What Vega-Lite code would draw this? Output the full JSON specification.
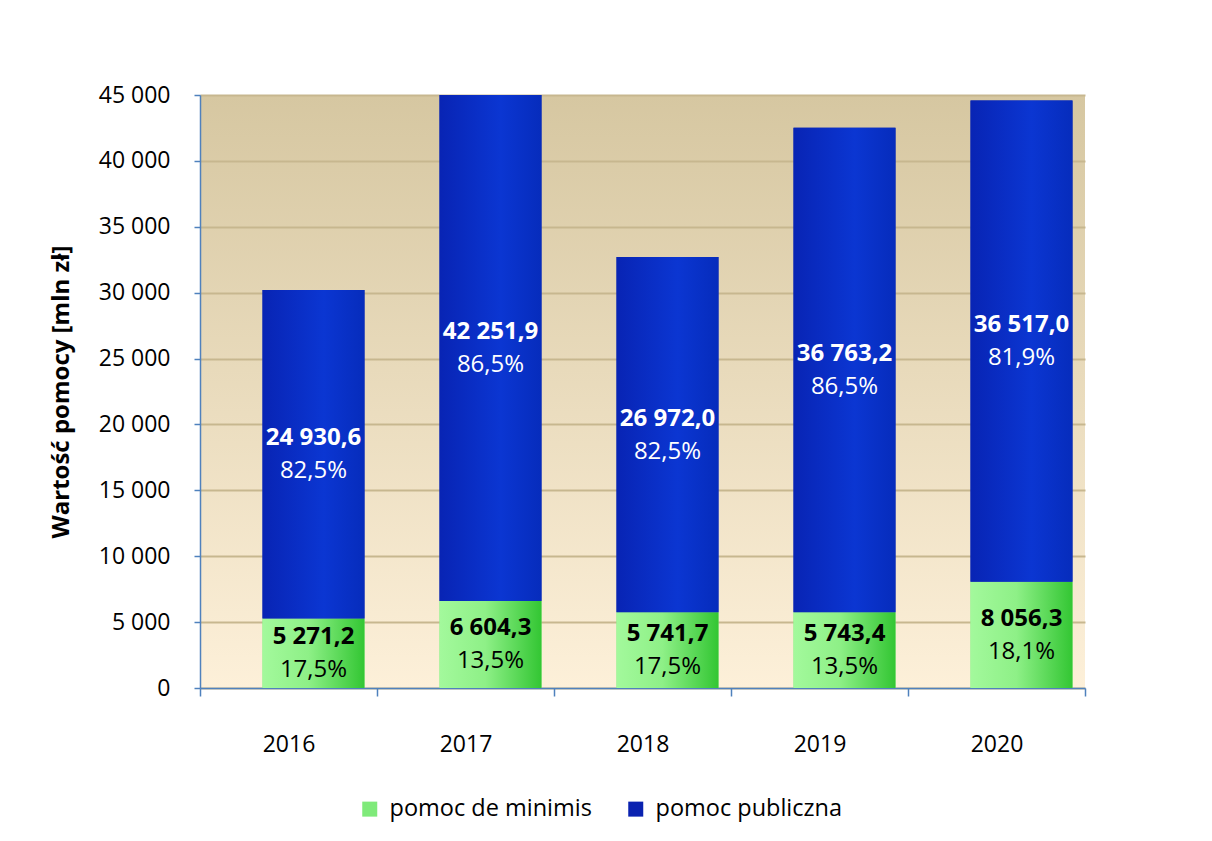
{
  "$schema": "https://vega.github.io/schema/vega-lite/v6.json",
  "width": 885,
  "height": 593,
  "autosize": "none",
  "padding": {"left": 200, "top": 95, "right": 127, "bottom": 153},
  "background": "white",
  "view": {
    "fill": {"gradient": "linear", "x1": 0, "y1": 0, "x2": 0, "y2": 1,
      "stops": [{"offset": 0, "color": "#d6c7a1"}, {"offset": 1, "color": "#fdf0d9"}]},
    "stroke": null
  },
  "config": {
    "font": "Open Sans",
    "axis": {"labelColor": "#000000", "titleColor": "#000000", "domainColor": "#4f81bd", "tickColor": "#4f81bd", "domainWidth": 1.5, "tickWidth": 1.5}
  },
  "data": {
    "values": [
      {"year": "2016", "type": "pomoc de minimis", "ord": 1, "value": 5271.2, "label": "5 271,2", "pct": "17,5%"},
      {"year": "2016", "type": "pomoc publiczna", "ord": 2, "value": 24930.6, "label": "24 930,6", "pct": "82,5%"},
      {"year": "2017", "type": "pomoc de minimis", "ord": 1, "value": 6604.3, "label": "6 604,3", "pct": "13,5%"},
      {"year": "2017", "type": "pomoc publiczna", "ord": 2, "value": 42251.9, "label": "42 251,9", "pct": "86,5%"},
      {"year": "2018", "type": "pomoc de minimis", "ord": 1, "value": 5741.7, "label": "5 741,7", "pct": "17,5%"},
      {"year": "2018", "type": "pomoc publiczna", "ord": 2, "value": 26972.0, "label": "26 972,0", "pct": "82,5%"},
      {"year": "2019", "type": "pomoc de minimis", "ord": 1, "value": 5743.4, "label": "5 743,4", "pct": "13,5%"},
      {"year": "2019", "type": "pomoc publiczna", "ord": 2, "value": 36763.2, "label": "36 763,2", "pct": "86,5%"},
      {"year": "2020", "type": "pomoc de minimis", "ord": 1, "value": 8056.3, "label": "8 056,3", "pct": "18,1%"},
      {"year": "2020", "type": "pomoc publiczna", "ord": 2, "value": 36517.0, "label": "36 517,0", "pct": "81,9%"}
    ]
  },
  "transform": [
    {"stack": "value", "groupby": ["year"], "sort": [{"field": "ord", "order": "ascending"}], "as": ["v0", "v1"]},
    {"calculate": "(datum.v0 + min(datum.v1, 45000)) / 2", "as": "mid"}
  ],
  "encoding": {
    "x": {
      "field": "year", "type": "nominal",
      "scale": {"paddingInner": 0, "paddingOuter": 0},
      "axis": {"title": null, "labelAngle": 0, "labelFontSize": 23, "labelPadding": 37, "tickBand": "extent", "tickSize": 8, "grid": false}
    }
  },
  "layer": [
    {
      "mark": {"type": "bar", "xOffset": 25, "width": {"band": 0.576}},
      "encoding": {
        "y": {
          "field": "v0", "type": "quantitative",
          "scale": {"domain": [0, 45000], "nice": false, "clamp": true},
          "axis": {
            "values": [0, 5000, 10000, 15000, 20000, 25000, 30000, 35000, 40000, 45000],
            "labelExpr": "replace(format(datum.value, ','), ',', ' ')",
            "labelFontSize": 23, "labelPadding": 24, "tickSize": 6,
            "title": "Wartość pomocy [mln zł]", "titleFontSize": 24, "titleFontWeight": "bold", "titlePadding": 25,
            "grid": true, "gridColor": "#c7b78f", "gridWidth": 2
          }
        },
        "y2": {"field": "v1"},
        "color": {
          "field": "type", "type": "nominal",
          "scale": {"domain": ["pomoc de minimis", "pomoc publiczna"], "range": ["#7fea7a", "#0a22b0"]},
          "legend": {
            "title": null, "orient": "none", "direction": "horizontal", "legendX": 158, "legendY": 702,
            "symbolType": "square", "symbolSize": 225, "symbolStrokeWidth": 0, "labelFontSize": 23.5, "labelLimit": 500, "labelOffset": 8, "columnPadding": 32
          }
        }
      }
    },
    {
      "transform": [{"filter": "datum.type === 'pomoc de minimis'"}],
      "mark": {"type": "bar", "xOffset": 25, "width": {"band": 0.576},
        "color": {"gradient": "linear", "x1": 0, "y1": 0, "x2": 1, "y2": 0,
          "stops": [{"offset": 0, "color": "#a3f99c"}, {"offset": 0.45, "color": "#8ef087"}, {"offset": 1, "color": "#33c633"}]}},
      "encoding": {
        "y": {"field": "v0", "type": "quantitative"},
        "y2": {"field": "v1"}
      }
    },
    {
      "transform": [{"filter": "datum.type === 'pomoc publiczna'"}],
      "mark": {"type": "bar", "xOffset": 25, "width": {"band": 0.576},
        "color": {"gradient": "linear", "x1": 0, "y1": 0, "x2": 1, "y2": 0,
          "stops": [{"offset": 0, "color": "#0824b4"}, {"offset": 0.6, "color": "#0b36d2"}, {"offset": 1, "color": "#062cbc"}]}},
      "encoding": {
        "y": {"field": "v0", "type": "quantitative"},
        "y2": {"field": "v1"}
      }
    },
    {
      "mark": {"type": "text", "xOffset": 25, "dy": -16, "fontSize": 24, "fontWeight": "bold", "baseline": "middle"},
      "encoding": {
        "y": {"field": "mid", "type": "quantitative"},
        "text": {"field": "label"},
        "color": {"condition": {"test": "datum.type === 'pomoc publiczna'", "value": "#ffffff"}, "value": "#000000"}
      }
    },
    {
      "mark": {"type": "text", "xOffset": 25, "dy": 17, "fontSize": 24, "baseline": "middle"},
      "encoding": {
        "y": {"field": "mid", "type": "quantitative"},
        "text": {"field": "pct"},
        "color": {"condition": {"test": "datum.type === 'pomoc publiczna'", "value": "#ffffff"}, "value": "#000000"}
      }
    }
  ]
}
